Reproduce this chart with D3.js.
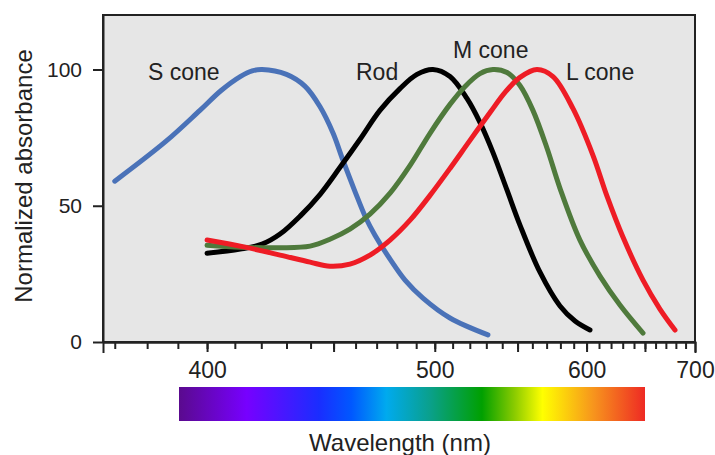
<!DOCTYPE html>
<html>
<head>
<meta charset="utf-8">
<script src="https://cdn.jsdelivr.net/npm/d3@7"></script>
<style>
  body { margin: 0; background: #fff; }
  text { font-family: "Liberation Sans", Arial, sans-serif; fill: #222; }
</style>
</head>
<body>
<script>
// absorbance curves: [wavelength nm, normalized absorbance]
var sCone = [[370,59],[386,73.6],[397.5,85],[405,92.3],[412,97.4],[416.5,99.5],[420.3,100],[430,98.2],
  [437.7,93.8],[444,86.4],[449.8,76.6],[454.2,66.7],[459.7,55.3],[464.9,45.4],[469.2,39.2],[476.6,30.4],
  [484.2,22.7],[493.6,16.1],[508.5,8.8],[531,2.6]];
var rod = [[400,32.6],[412,34.1],[420.3,35.9],[427.4,39.6],[435.6,46.2],[444.1,54.2],[452.9,64.1],
  [462.1,74.4],[471.6,85],[481.6,93],[490.4,98.2],[499,100],[508.5,97.4],[518.3,89.4],[526.1,80.6],
  [534.1,69.6],[543.1,55.7],[551.6,42.9],[565.3,25.6],[579.7,13.2],[591,7.7],[602.7,4.4]];
var mCone = [[400,35.5],[412,34.8],[427.4,34.6],[439.8,35.2],[448.4,37.7],[457.4,41.4],[466.8,46.9],
  [476.6,54.6],[486.8,64.8],[497.4,76.6],[508.5,87.2],[517.2,93.8],[526.1,98.5],[534.1,100],[543.1,98.9],
  [551.6,94.1],[560.4,85],[570.3,71.1],[579.7,56.4],[594.8,37.4],[610.8,24.2],[627.6,13.6],[648.2,3.3]];
var lCone = [[400,37.4],[413.8,34.8],[427.4,31.9],[439.8,29.3],[448.4,27.8],[457.4,28.6],[466.8,31.9],
  [476.6,37.4],[486.8,44.7],[497.4,53.8],[508.5,63.7],[520.1,74],[532.3,84.2],[541.8,91.6],[551.6,97.1],
  [563.2,100],[574.6,97.4],[589.4,85.7],[605.1,68.5],[616.6,53.5],[630.2,38.5],[648.2,22.7],[664.2,12.1],
  [679.1,4.4]];

var seriesNames = ["S cone", "Rod", "M cone", "L cone"];
var seriesColors = ["#4a72b8", "#000000", "#4f7a3c", "#ee1c25"];
var labelPos = [[148, 80], [356, 80], [453, 58], [566, 80]];

var yTicks = [0, 50, 100];
var xLabelTicks = [400, 500, 600, 700];
var xMajorTicks = [400, 450, 500, 550, 600, 650, 700];
var xMinorTicks = d3.range(370, 700, 10);

var spectrumStops = [[0, "#5a0a8e"], [0.145, "#7700ff"], [0.30, "#1a2dff"], [0.37, "#0058ff"],
  [0.445, "#00aaee"], [0.54, "#0aa08a"], [0.65, "#00a000"], [0.72, "#8acb00"], [0.78, "#ffff00"],
  [0.89, "#f7941d"], [1, "#ee2a24"]];

var svg = d3.select("body").append("svg")
  .attr("width", 715)
  .attr("height", 455);

// wavelength axis is linear in 1/nm
var inv = d3.scaleLinear().domain([1 / 366.5, 1 / 700]).range([103, 695]);
function x(nm) { return inv(1 / nm); }
var y = d3.scaleLinear().domain([0, 120]).range([342, 15]);

svg.append("rect")
  .attr("x", 103).attr("y", 15)
  .attr("width", 592).attr("height", 327)
  .attr("fill", "#e6e6e6")
  .attr("stroke", "#222")
  .attr("stroke-width", 2);

var yAxis = svg.append("g")
  .attr("transform", "translate(103,0)")
  .call(d3.axisLeft(y).tickValues(yTicks).tickSize(10).tickSizeOuter(0).tickPadding(11));
yAxis.selectAll("text").style("font-size", "21px");

svg.append("g")
  .attr("transform", "translate(0,342)")
  .call(d3.axisBottom(inv).tickValues(xMinorTicks.map(function(d) { return 1 / d; }))
    .tickSize(7).tickSizeOuter(0).tickFormat(""));

var xAxis = svg.append("g")
  .attr("transform", "translate(0,342)")
  .call(d3.axisBottom(inv).tickValues(xMajorTicks.map(function(d) { return 1 / d; }))
    .tickSize(10).tickSizeOuter(11).tickPadding(10)
    .tickFormat(function(d) {
      var v = Math.round(1 / d);
      return xLabelTicks.indexOf(v) >= 0 ? v : "";
    }));
xAxis.selectAll("text").style("font-size", "23px");

svg.selectAll(".domain, .tick line")
  .attr("stroke", "#222")
  .attr("stroke-width", 2);

var line = d3.line()
  .x(function(d) { return x(d[0]); })
  .y(function(d) { return y(d[1]); })
  .curve(d3.curveCatmullRom.alpha(0.5));

[sCone, rod, mCone, lCone].forEach(function(s, i) {
  svg.append("path")
    .datum(s)
    .attr("d", line)
    .attr("fill", "none")
    .attr("stroke", seriesColors[i])
    .attr("stroke-width", 5)
    .attr("stroke-linecap", "round")
    .attr("stroke-linejoin", "round");
  svg.append("text")
    .attr("x", labelPos[i][0])
    .attr("y", labelPos[i][1])
    .style("font-size", "23px")
    .text(seriesNames[i]);
});

// spectrum bar
var grad = svg.append("defs").append("linearGradient")
  .attr("id", "spectrum");
grad.selectAll("stop")
  .data(spectrumStops)
  .enter().append("stop")
  .attr("offset", function(d) { return d[0]; })
  .attr("stop-color", function(d) { return d[1]; });

svg.append("rect")
  .attr("x", 179).attr("y", 387)
  .attr("width", 466).attr("height", 34)
  .attr("fill", "url(#spectrum)");

svg.append("text")
  .attr("x", 400).attr("y", 451)
  .attr("text-anchor", "middle")
  .style("font-size", "24px")
  .text("Wavelength (nm)");

svg.append("text")
  .attr("transform", "translate(32,176) rotate(-90)")
  .attr("text-anchor", "middle")
  .style("font-size", "24px")
  .text("Normalized absorbance");
</script>
</body>
</html>
